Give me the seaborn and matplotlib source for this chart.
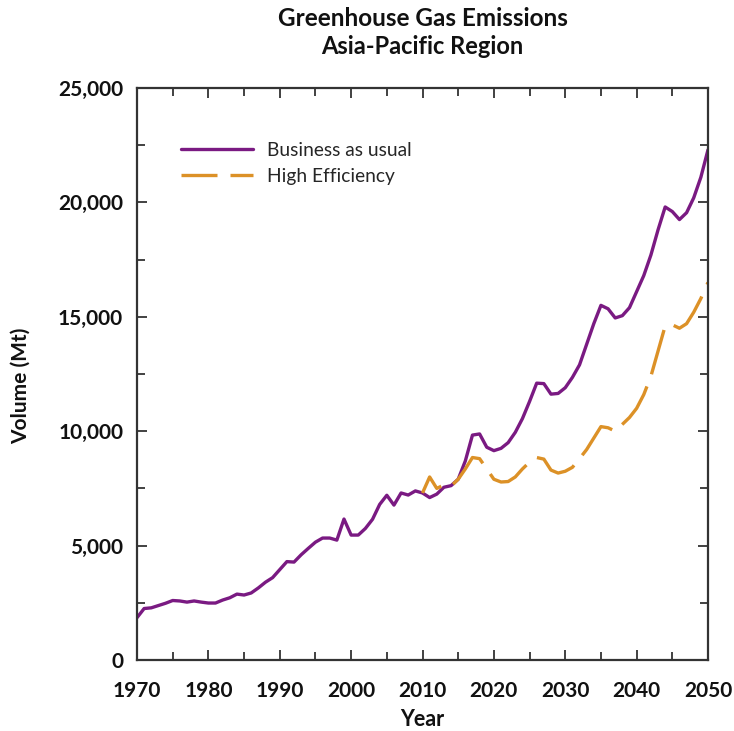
import matplotlib
matplotlib.use("Agg")
import matplotlib.pyplot as plt
import numpy as np
import pandas as pd
import seaborn as sns
from matplotlib.ticker import MultipleLocator, FuncFormatter

# Annual emissions, Mt CO2-equivalent
years = list(range(1970, 2051))
business_as_usual = [
    1850, 2250, 2280, 2380, 2480, 2600, 2580, 2530, 2580, 2530,   # 1970-1979
    2490, 2490, 2620, 2720, 2880, 2840, 2930, 3150, 3400, 3600,   # 1980-1989
    3950, 4300, 4280, 4600, 4880, 5150, 5330, 5330, 5240, 6160,   # 1990-1999
    5460, 5460, 5750, 6150, 6800, 7200, 6770, 7300, 7210, 7390,   # 2000-2009
    7300, 7100, 7250, 7550, 7620, 7900, 8700, 9830, 9880, 9300,   # 2010-2019
    9150, 9250, 9500, 9950, 10550, 11300, 12100, 12080, 11620, 11650,  # 2020-2029
    11900, 12350, 12900, 13800, 14700, 15500, 15350, 14950, 15050, 15400,  # 2030-2039
    16100, 16800, 17700, 18800, 19800, 19600, 19250, 19550, 20200, 21100,  # 2040-2049
    22300,                                                         # 2050
]

efficiency_years = list(range(2010, 2051))
high_efficiency = [
    7300, 8000, 7500, 7650, 7600, 7900, 8350, 8850, 8800, 8350,   # 2010-2019
    7900, 7780, 7800, 8000, 8350, 8650, 8850, 8780, 8300, 8170,   # 2020-2029
    8250, 8420, 8800, 9200, 9700, 10200, 10150, 10000, 10300, 10600,  # 2030-2039
    11000, 11600, 12400, 13500, 14600, 14650, 14500, 14700, 15200, 15800,  # 2040-2049
    16500,                                                         # 2050
]

scenario_names = ["Business as usual", "High Efficiency"]
scenario_colors = ["#7a1a82", "#dc9127"]

x_ticks = list(range(1970, 2051, 10))
y_ticks = list(range(0, 25001, 5000))

sns.set_theme(style="ticks")
plt.rcParams["font.family"] = ["Lato", "DejaVu Sans"]

bau_df = pd.DataFrame({"Year": years, "Volume": business_as_usual})
eff_df = pd.DataFrame({"Year": efficiency_years, "Volume": high_efficiency})

fig = plt.figure(figsize=(7.34, 7.31), dpi=100)
ax = fig.add_axes([137 / 734, 1 - 660 / 731, (708 - 137) / 734, (660 - 88) / 731])

lw = 2.4
sns.lineplot(data=bau_df, x="Year", y="Volume", ax=ax, color=scenario_colors[0],
             linewidth=lw, label=scenario_names[0], estimator=None)
sns.lineplot(data=eff_df, x="Year", y="Volume", ax=ax, color=scenario_colors[1],
             linewidth=lw, label=scenario_names[1], estimator=None,
             linestyle=(3.0, (13.8, 3.9)))

ax.set_xlim(1970, 2050)
ax.set_ylim(0, 25000)
ax.set_xticks(x_ticks)
ax.set_yticks(y_ticks)
ax.xaxis.set_minor_locator(MultipleLocator(5))
ax.yaxis.set_minor_locator(MultipleLocator(2500))
ax.yaxis.set_major_formatter(FuncFormatter(lambda v, _: f"{int(v):,}"))

spine_color = "#333333"
for side in ["left", "right", "top", "bottom"]:
    ax.spines[side].set_visible(True)
    ax.spines[side].set_color(spine_color)
    ax.spines[side].set_linewidth(1.6)

ax.tick_params(axis="both", which="both", direction="in", top=True, right=True,
               color=spine_color, width=1.3)
ax.tick_params(axis="both", which="major", length=7)
ax.tick_params(axis="both", which="minor", length=6)
ax.tick_params(axis="x", which="major", pad=15)
ax.tick_params(axis="y", which="major", pad=10)
for lbl in ax.get_xticklabels() + ax.get_yticklabels():
    lbl.set_fontsize(15)
    lbl.set_fontweight("bold")
    lbl.set_color("#111111")

ax.set_xlabel("Year", fontsize=15.5, fontweight="bold", color="#111111")
ax.set_ylabel("Volume (Mt)", fontsize=15, fontweight="bold", color="#111111")
ax.xaxis.set_label_coords(0.5, -0.085)
ax.yaxis.set_label_coords(-0.186, 0.48)

ax.legend(loc="upper left", bbox_to_anchor=(0.077, 0.906), frameon=False,
          fontsize=13.8, handlelength=3.75, handletextpad=0.73,
          labelspacing=0.47, borderpad=0, borderaxespad=0)

fig.text(422.5 / 734, 1 - 19 / 731, "Greenhouse Gas Emissions", ha="center",
         va="center", fontsize=17.5, fontweight="bold", color="#111111")
fig.text(422.5 / 734, 1 - 46 / 731, "Asia-Pacific Region", ha="center",
         va="center", fontsize=17, fontweight="bold", color="#111111")

fig.savefig("out.png", dpi=100, facecolor="white")
